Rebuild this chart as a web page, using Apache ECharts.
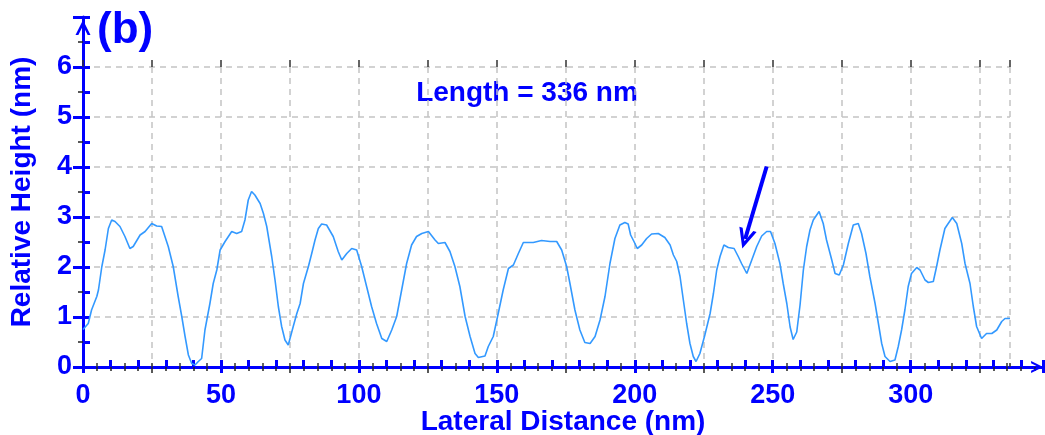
<!DOCTYPE html>
<html>
<head>
<meta charset="utf-8">
<script src="https://cdn.jsdelivr.net/npm/echarts@6/dist/echarts.min.js"></script>
<style>html,body{margin:0;padding:0;background:#fff}#c{width:1045px;height:435px}</style>
</head>
<body>
<div id="c"></div>
<script>
// ---- data ----
var distance = [0,1.9,3.1,5.0,5.6,6.8,8.0,9.2,10.4,11.6,13.4,15.2,17.0,18.2,20.7,22.5,24.9,26.7,28.5,29.7,30.9,32.7,34.5,35.8,37.0,38.2,39.4,40.6,41.8,43.0,44.2,46.0,47.2,48.5,49.7,51.5,53.9,55.7,57.5,58.7,59.9,61.1,62.3,64.2,65.4,66.6,68.4,69.6,70.8,72.0,73.2,74.4,76.2,77.5,78.7,79.9,81.7,82.9,84.1,85.3,86.5,88.3,90.7,92.5,93.8,95.6,97.4,99.2,101.0,102.8,104.6,106.4,108.3,110.1,111.9,113.7,115.5,117.3,119.1,120.9,122.8,125.2,127.6,128.8,131.2,133.0,134.8,136.6,138.5,140.3,142.1,143.3,145.7,146.9,148.7,150.5,152.3,154.2,156.0,157.8,159.6,163.2,166.2,169.3,171.7,173.5,175.3,176.5,178.3,180.1,181.9,183.8,185.6,187.4,189.2,191.0,192.8,194.6,196.4,197.6,198.5,199.7,200.9,202.5,204.3,206.1,208.5,210.9,212.8,214.0,215.2,216.4,217.6,218.8,220.0,221.2,222.2,223.6,225.4,227.3,228.5,229.7,230.9,232.3,233.9,236.0,237.5,238.7,240.6,242.4,244.2,246.0,247.8,249.2,250.8,252.6,253.8,255.1,256.3,257.4,258.7,259.9,261.1,262.3,263.5,264.7,266.8,268.3,269.5,271.4,272.6,274.1,275.6,277.4,279.2,281.0,282.2,283.8,285.2,287.1,288.3,289.5,290.7,292.5,294.3,295.5,296.7,297.9,299.1,300.3,302.2,303.4,305.2,306.4,308.2,309.4,310.6,312.4,313.6,315.1,316.7,318.5,319.7,321.5,322.7,323.9,325.7,327.5,329.4,331.2,333.0,334.2,336.0];
var height = [0.75,0.87,1.14,1.41,1.54,2.0,2.34,2.77,2.94,2.91,2.81,2.61,2.37,2.41,2.64,2.71,2.87,2.82,2.81,2.61,2.41,2.01,1.41,1.01,0.61,0.24,0.07,0.04,0.11,0.17,0.74,1.27,1.67,1.94,2.34,2.51,2.71,2.67,2.71,2.94,3.34,3.51,3.44,3.27,3.07,2.81,2.21,1.74,1.21,0.81,0.54,0.44,0.81,1.07,1.27,1.67,2.01,2.27,2.54,2.77,2.86,2.84,2.61,2.31,2.14,2.27,2.37,2.34,2.01,1.61,1.21,0.87,0.57,0.51,0.74,1.01,1.54,2.07,2.44,2.61,2.67,2.71,2.54,2.47,2.49,2.31,2.01,1.61,1.01,0.61,0.27,0.19,0.22,0.41,0.61,1.07,1.54,1.97,2.04,2.27,2.49,2.49,2.53,2.51,2.51,2.34,2.01,1.67,1.14,0.74,0.49,0.47,0.61,0.94,1.41,2.07,2.57,2.84,2.89,2.86,2.64,2.51,2.37,2.44,2.57,2.66,2.67,2.59,2.44,2.24,2.11,1.81,1.34,0.87,0.47,0.21,0.11,0.27,0.64,1.07,1.47,1.94,2.21,2.44,2.39,2.37,2.21,2.07,1.87,2.14,2.41,2.62,2.71,2.71,2.47,2.07,1.67,1.27,0.80,0.55,0.70,1.24,1.94,2.41,2.74,2.94,3.11,2.87,2.54,2.14,1.87,1.84,2.04,2.47,2.84,2.87,2.67,2.27,1.81,1.27,0.87,0.47,0.21,0.11,0.14,0.41,0.74,1.14,1.61,1.87,1.99,1.94,1.74,1.69,1.71,2.01,2.34,2.77,2.87,2.99,2.87,2.47,2.07,1.67,1.21,0.81,0.57,0.67,0.67,0.74,0.91,0.97,0.97];
var xLabels = [0, 50, 100, 150, 200, 250, 300];
var yLabels = [0, 1, 2, 3, 4, 5, 6];
var arrowStart = [247.8, 4.01];
var arrowEnd = [240.0, 2.56];
var titleText = '(b)';
var lengthText = 'Length = 336 nm';
var xName = 'Lateral Distance (nm)';
var yName = 'Relative Height (nm)';
// --------------------------------------

var BLUE = '#0000FF';
var FONT = '"Liberation Sans", Arial, Helvetica, sans-serif';
var chevron = 'path://M0,10 L5,0 L10,10 L8.1,10 L5,3.8 L1.9,10 Z';
var pairs = distance.map(function (d, i) { return [d, height[i]]; });
var grid0 = {left: 83, top: 67, width: 927, height: 300};
var grid1 = {left: 83, top: 17, width: 960.1, height: 350};
var dash = {show: true, lineStyle: {color: '#c4c4c4', width: 1.5, type: [6, 5]}};
var none = {show: false};

function hidden(extra) {
  var o = {type: 'value', axisLine: none, axisTick: none, axisLabel: none, splitLine: none};
  for (var k in extra) o[k] = extra[k];
  return o;
}

var chart = echarts.init(document.getElementById('c'), null, {renderer: 'canvas'});
chart.setOption({
  animation: false,
  backgroundColor: '#fff',
  grid: [
    {left: grid0.left, top: grid0.top, width: grid0.width, height: grid0.height, containLabel: false, outerBoundsMode: 'none'},
    {left: grid1.left, top: grid1.top, width: grid1.width, height: grid1.height, containLabel: false, outerBoundsMode: 'none'}
  ],
  xAxis: [
    hidden({gridIndex: 0, min: 0, max: 336, interval: 25, position: 'bottom', splitLine: dash}),
    hidden({gridIndex: 0, min: 0, max: 336, interval: 5, position: 'top',
      axisLine: {show: true, lineStyle: {color: '#333', width: 1.5}},
      axisTick: {show: true, inside: false, length: 4, lineStyle: {color: '#333', width: 1.5}}}),
    hidden({gridIndex: 0, min: 0, max: 336, interval: 25, position: 'top',
      axisTick: {show: true, inside: false, length: 7, lineStyle: {color: '#333', width: 1.5}}}),
    hidden({gridIndex: 1, min: 0, max: 348, interval: 10, position: 'bottom',
      axisLine: {show: true, symbol: ['none', chevron], symbolSize: [19, 12], symbolOffset: [0, -6],
        lineStyle: {color: BLUE, width: 3}},
      axisTick: {show: true, inside: true, length: 7, lineStyle: {color: BLUE, width: 3}},
      axisLabel: {show: true, margin: 15, color: BLUE, fontFamily: FONT, fontWeight: 'bold', fontSize: 27,
        formatter: function (v) { return xLabels.indexOf(v) >= 0 ? String(v) : ''; }},
      name: xName, nameLocation: 'middle', nameGap: 41, nameMoveOverlap: false,
      nameTextStyle: {color: BLUE, fontFamily: FONT, fontWeight: 'bold', fontSize: 28}}),
    hidden({gridIndex: 1, min: 0, max: 348, interval: 5, position: 'bottom',
      axisTick: {show: true, inside: false, length: 4, lineStyle: {color: '#222', width: 1.5}}}),
    hidden({gridIndex: 1, min: 0, max: 348, interval: 25, position: 'bottom',
      axisTick: {show: true, inside: false, length: 6, lineStyle: {color: '#222', width: 1.5}}}),
    hidden({gridIndex: 1, min: 0, max: 348, interval: 50, position: 'bottom',
      axisTick: {show: true, inside: false, length: 6, lineStyle: {color: BLUE, width: 3}}})
  ],
  yAxis: [
    hidden({gridIndex: 0, min: 0, max: 6, interval: 1, position: 'left', splitLine: dash}),
    hidden({gridIndex: 0, min: 0, max: 6, interval: 0.5, position: 'right',
      axisLine: {show: true, lineStyle: {color: '#333', width: 1.5}},
      axisTick: {show: true, inside: false, length: 5, lineStyle: {color: '#333', width: 1.5}}}),
    hidden({gridIndex: 1, min: 0, max: 7, interval: 0.5, position: 'left',
      axisTick: {show: true, inside: false, length: 5, lineStyle: {color: '#222', width: 1.5}}}),
    hidden({gridIndex: 1, min: 0, max: 7, interval: 1, position: 'left',
      axisTick: {show: true, inside: false, length: 10, lineStyle: {color: BLUE, width: 3}}}),
    hidden({gridIndex: 1, min: 0, max: 7, interval: 0.5, position: 'left',
      axisLine: {show: true, symbol: ['none', chevron], symbolSize: [17, 15], symbolOffset: [0, -10.5],
        lineStyle: {color: BLUE, width: 3}},
      axisTick: {show: true, inside: true, length: 7, lineStyle: {color: BLUE, width: 3}},
      axisLabel: {show: true, margin: 11, color: BLUE, fontFamily: FONT, fontWeight: 'bold', fontSize: 27,
        formatter: function (v) { return yLabels.indexOf(v) >= 0 ? String(v) : ''; }},
      name: yName, nameLocation: 'middle', nameGap: 47, nameRotate: 90, nameMoveOverlap: false,
      nameTextStyle: {color: BLUE, fontFamily: FONT, fontWeight: 'bold', fontSize: 28}})
  ],
  series: [{
    type: 'line',
    xAxisIndex: 0,
    yAxisIndex: 0,
    data: pairs,
    showSymbol: false,
    symbol: 'none',
    z: 3,
    lineStyle: {color: '#3399FF', width: 1.6},
    markLine: {
      silent: true,
      symbol: ['none', chevron],
      symbolSize: [18, 20],
      label: {show: false},
      lineStyle: {color: BLUE, width: 4, type: 'solid'},
      data: [[{coord: arrowStart}, {coord: arrowEnd}]]
    }
  }],
  graphic: [
    {type: 'text', left: 97, top: 9, style: {text: titleText, fill: BLUE, font: 'bold 44px ' + FONT}},
    {type: 'text', x: 527, y: 79, style: {text: lengthText, fill: BLUE, font: 'bold 28px ' + FONT, textAlign: 'center', textVerticalAlign: 'top'}}
  ]
});
</script>
</body>
</html>
